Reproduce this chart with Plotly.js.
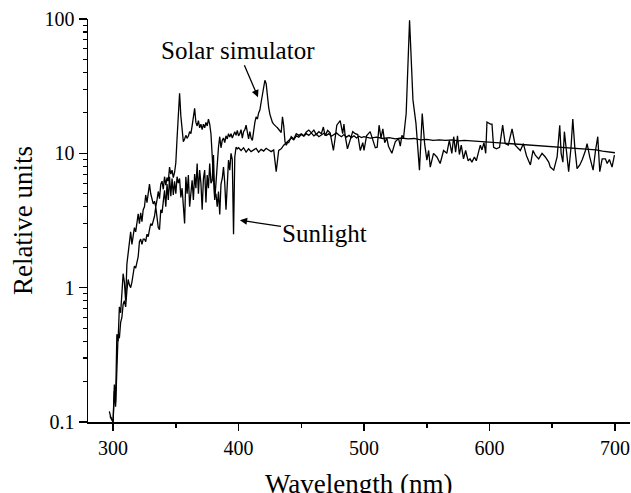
<!DOCTYPE html>
<html>
<head>
<meta charset="utf-8">
<script src="https://cdn.plot.ly/plotly-3.0.1.min.js"></script>
<style>html,body{margin:0;padding:0;background:#fff}#chart{width:631px;height:493px}</style>
</head>
<body>
<div id="chart"></div>
<script>
// Sunlight spectrum (wavelength nm, relative units)
const sunWl = [297,298,300,301,302,303,304,305,306,307,308,309,310,311,312,313,314,315,316,317,318,319,320,321,322,323,324,325,326,327,328,329,330,331,332,333,334,335,336,337,338,339,340,341,342,343,344,345,346,347,348,349,350,351,352,353,354,355,357,358,359,360,361,362,363,364,365,366,367,368,369,370,371,372,373,374,375,376,377,378,379,380,381,382,383,384,385,386,387,388,389,390,391,392,393,394,395,396,397,398,399,400,402,404,406,408,410,412,414,416,418,420,422,424,426,428,430,432,434,436,438,440,442,444,446,448,450,452,454,456,458,460,462,464,466,468,470,472,474,476,478,480,482,484,486,488,490,492,494,496,498,500,505,510,515,520,525,530,535,540,545,550,555,560,565,570,575,580,585,590,595,600,605,610,615,620,625,630,635,640,645,650,655,660,665,670,675,680,685,690,695,700];
const sunVal = [0.12,0.11,0.10,0.17,0.13,0.30,0.45,0.42,0.55,0.60,0.75,0.80,0.72,0.95,1.15,1.05,1.00,1.10,1.30,1.45,1.40,1.60,1.70,2.20,2.30,2.10,2.30,2.30,2.20,2.50,2.40,2.70,3.00,2.90,3.20,3.40,4.00,3.20,2.80,2.70,3.80,3.60,4.50,5.30,4.00,5.90,4.50,6.70,4.80,6.50,4.90,6.20,5.00,6.70,6.00,6.50,4.70,5.50,3.00,6.70,5.00,6.90,4.00,5.50,6.30,4.50,7.00,5.50,8.40,5.00,7.50,6.00,3.80,6.50,7.50,4.30,6.90,5.50,8.40,6.00,6.30,9.70,4.70,5.00,4.00,5.20,3.50,5.90,6.50,7.90,6.00,3.80,6.00,8.90,7.50,10.0,9.00,2.50,9.40,11.1,10.8,11.0,10.5,11.0,10.2,10.8,10.3,10.6,10.9,10.2,10.7,10.4,10.9,10.6,10.3,10.6,7.30,10.5,10.8,11.5,12.0,12.3,13.0,12.6,13.5,13.2,13.8,13.4,14.0,13.6,14.2,13.5,13.9,13.3,13.8,14.1,13.6,14.0,13.4,13.8,14.2,13.7,13.3,13.8,13.2,13.6,13.1,13.5,13.0,13.4,13.1,13.3,13.0,13.2,12.9,13.1,12.8,13.0,12.8,12.9,12.6,12.7,12.5,12.6,12.5,12.6,12.4,12.5,12.4,12.3,12.3,12.2,12.1,12.0,11.9,11.8,11.7,11.6,11.5,11.4,11.3,11.2,11.2,11.1,11.0,10.9,10.8,10.7,10.6,10.4,10.3,10.1];

// Solar simulator spectrum (wavelength nm, relative units)
const simWl = [297.5,299,300,301,302,303,304,305,306,307,308,309,310,311,312,313,314,315,316,317,318,319,320,321,322,323,324,325,326,327,328,329,330,331,332,333,334,335,336,337,338,339,340,341,342,343,344,345,346,347,348,349,350,351,352,353,354,355,356,357,358,359,360,361,362,363,364,365,366,367,368,369,370,371,372,373,374,375,376,377,378,379,380,381,382,383,384,385,386,387,388,389,390,391,392,393,394,395,396,397,398,399,400,401,402,403,404,405,406,407,408,409,410,411,412,413,414,415,416,417,418,419,420,421,422,423,424,425,426,427,428,429,430,431,432,433,434,435,436,437,438,439,440,442,444,446,448,450,452,454,456,458,460,462,464,466,467.6,469,471,473,475.6,477,478.3,481,483,484,485,486.8,489,491,493,495,497,499,500,502,504.9,507,509,510.5,512,513.5,515,516.5,518.2,519.5,522.2,524.9,527.5,528.9,530.2,531.5,533.6,536.3,539,541.4,544.2,546.4,548.3,550.1,551.5,552.8,555.4,558.1,560.7,563.4,566,568,570,571.5,573,574.5,576,577.5,579.3,581,583,584.5,586,588,589.5,591,592.7,594,595.6,597,598,600.7,602,603.3,605.5,608,610.5,612.5,615,618,620.5,624.6,627,629.5,632.6,634.7,636.5,639.2,641.9,644.5,647.2,648.5,651.2,653.9,656,657.1,658.5,659.7,661,663.1,665,666.4,668,669.8,672,674,676.5,677.8,679.9,682.6,684.5,686.3,687.9,689.8,692.4,693.8,695.6,697.7,699.6];
const simVal = [0.11,0.105,0.10,0.19,0.14,0.45,0.40,0.72,0.65,0.90,1.27,1.10,0.80,1.50,1.80,2.25,2.60,2.10,2.40,2.80,2.60,3.20,3.55,3.00,3.60,3.10,3.80,4.00,4.90,4.30,5.20,5.90,5.00,4.60,4.20,4.40,4.00,4.50,5.20,4.60,5.90,6.20,5.40,6.70,5.80,6.60,6.20,7.90,7.00,7.50,6.60,7.20,8.50,13.0,20.0,28.0,19.0,14.0,12.2,12.8,13.6,13.0,13.4,14.5,14.0,16.0,19.0,21.6,17.0,16.0,17.5,15.5,16.5,15.0,16.5,15.5,17.0,16.0,18.0,16.5,14.0,10.0,7.50,4.50,6.00,9.00,11.1,13.3,11.0,12.5,13.0,12.0,13.5,12.8,14.0,13.2,14.0,13.0,14.0,14.5,13.6,14.8,13.5,14.0,15.0,13.0,14.5,15.0,16.2,14.0,12.8,14.5,13.0,12.5,15.5,17.0,18.7,18.0,20.0,21.0,24.0,28.0,31.0,35.0,33.0,26.0,22.0,19.5,17.7,17.0,16.5,16.0,15.8,15.5,15.0,14.5,14.3,18.7,16.0,12.2,11.5,12.0,12.0,13.3,12.8,14.0,13.6,14.0,13.5,14.4,14.9,14.2,14.9,13.8,14.5,14.0,15.7,13.5,14.8,14.2,10.5,13.0,16.2,17.5,14.0,16.5,13.5,10.8,12.8,14.5,14.0,13.8,10.5,12.0,10.5,13.5,14.5,12.5,11.0,11.1,16.2,13.0,15.2,12.0,13.0,11.3,10.0,12.2,12.9,11.3,13.6,13.0,19.8,98.0,25.0,16.7,7.50,19.8,11.8,8.90,10.5,7.90,10.0,9.40,8.40,10.5,10.0,12.5,10.0,13.3,10.2,13.5,9.80,11.5,9.10,10.5,8.80,9.10,8.60,9.40,8.80,10.0,11.5,10.6,12.0,10.0,17.1,16.5,16.5,11.1,10.8,11.1,16.2,11.8,11.5,15.2,11.5,10.5,11.8,9.60,8.20,10.5,9.70,9.10,10.0,9.40,8.60,7.90,7.50,9.40,16.2,10.0,8.60,14.5,11.0,7.30,11.1,18.0,11.1,7.70,8.20,9.00,10.5,11.8,9.40,7.50,10.5,13.3,7.30,9.10,9.10,8.40,9.00,7.90,9.70];

const xTickVals = [300,400,500,600,700];
const yTickVals = [0.1,1,10,100];
const yTickText = ['0.1','1','10','100'];
const xTitle = 'Wavelength (nm)';
const yTitle = 'Relative units';

const yMinor = [];
[0.1,1,10].forEach(d => { for (let k = 2; k <= 9; k++) yMinor.push(+(d*k).toPrecision(3)); });

const font = 'Liberation Serif, Times New Roman, serif';
const lineStyle = {color:'#000', width:1.3};

const traces = [
  {x: sunWl, y: sunVal, type:'scatter', mode:'lines', name:'Sunlight', line: lineStyle},
  {x: simWl, y: simVal, type:'scatter', mode:'lines', name:'Solar simulator', line: lineStyle}
];

const layout = {
  width: 631, height: 493,
  margin: {l:88, r:1, t:19, b:71},
  paper_bgcolor:'#fff', plot_bgcolor:'#fff',
  showlegend:false,
  font:{family:font, color:'#000', size:20},
  xaxis:{
    range:[280,712], tickmode:'array', tickvals:xTickVals,
    ticks:'outside', ticklen:7, tickwidth:1.5, tickcolor:'#000',
    showline:true, linecolor:'#000', linewidth:1.5,
    showgrid:false, zeroline:false,
    tickfont:{family:font, size:20, color:'#000'},
    minor:{tickmode:'array', tickvals:[350,450,550,650], ticks:'outside', ticklen:4, tickwidth:1.5, tickcolor:'#000', showgrid:false},
    automargin:false
  },
  yaxis:{
    type:'log', range:[-1,2], tickmode:'array', tickvals:yTickVals, ticktext:yTickText,
    ticks:'outside', ticklen:8, tickwidth:1.5, tickcolor:'#000',
    showline:true, linecolor:'#000', linewidth:1.5,
    showgrid:false, zeroline:false,
    tickfont:{family:font, size:20, color:'#000'},
    minor:{tickmode:'array', tickvals:yMinor, ticks:'outside', ticklen:4, tickwidth:1.2, tickcolor:'#000', showgrid:false},
    title:{text:yTitle, font:{family:font, size:27, color:'#000'}, standoff:4},
    automargin:false
  },
  annotations:[
    {x:0.5, y:0, xref:'paper', yref:'paper', text:xTitle, showarrow:false,
     xanchor:'center', yanchor:'top', yshift:-45,
     font:{family:font, size:27, color:'#000'}},
    {x:415.5, y:Math.log10(26.2), xref:'x', yref:'y', text:'Solar simulator', showarrow:true,
     ax:-20, ay:-47, arrowhead:2, arrowsize:1.1, arrowwidth:1.3, arrowcolor:'#000',
     font:{family:font, size:25, color:'#000'}},
    {x:401.1, y:Math.log10(3.18), xref:'x', yref:'y', text:'Sunlight', showarrow:true,
     ax:85, ay:13, arrowhead:2, arrowsize:1.1, arrowwidth:1.3, arrowcolor:'#000',
     font:{family:font, size:25, color:'#000'}}
  ]
};

Plotly.newPlot('chart', traces, layout, {staticPlot:true, displayModeBar:false});
</script>
</body>
</html>
